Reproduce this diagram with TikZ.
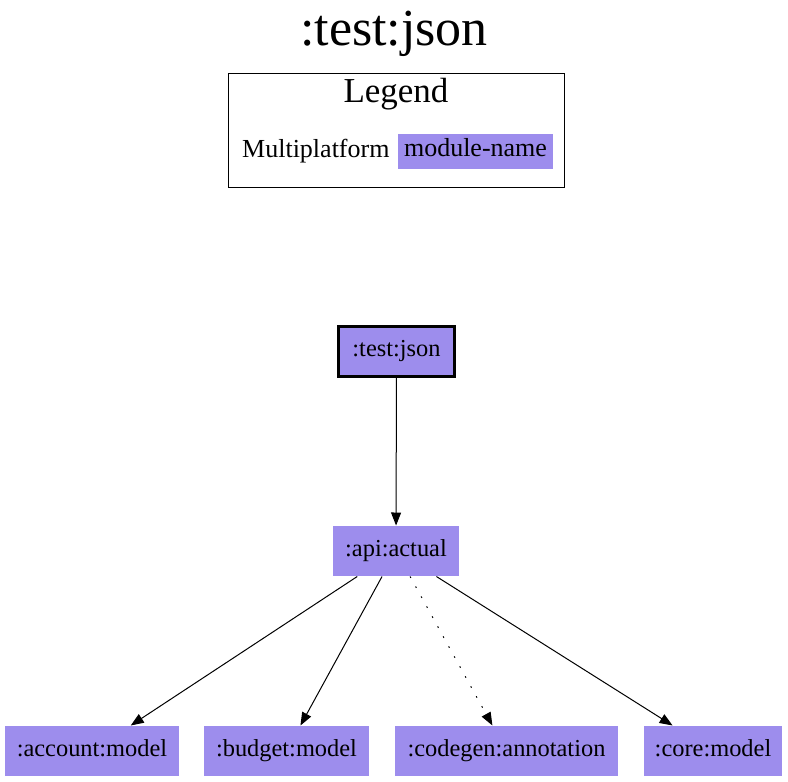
\documentclass[tikz,border=0pt]{standalone}
\usepackage{fontspec}
\setmainfont{Liberation Serif}
\usetikzlibrary{arrows.meta}
\definecolor{modfill}{RGB}{157,141,237}

\begin{document}
\begin{tikzpicture}[x=0.5pt, y=-0.5pt,
	            every node/.style={inner sep=0pt},
	            module/.style={
	            fill=modfill,
	            minimum height=25pt,
	            text height=8pt,
	            text depth=3pt,
	            font=\fontsize{12.2}{14}\selectfont
	            },
	            >={Triangle[length=6.5pt, width=5pt]},
	            every path/.style={
                    line width=0.5pt
                }]

	        \useasboundingbox (0,0) rectangle (788,782);

	        % title and legend
	        \node[anchor=base, font=\fontsize{26}{30}\selectfont] (title) at (394,45) {:test:json};
	        \node[draw, minimum width=168pt, minimum height=57pt] (legend) at (396,130) {};
	        \node[anchor=base, font=\fontsize{17.5}{20}\selectfont] (legendname) at (396,102) {Legend};
	        \node[module, minimum width=77.5pt, minimum height=17.5pt, font=\fontsize{13}{15}\selectfont] (key) at (475.5,151.5) {module-name};
	        \node[anchor=base east, font=\fontsize{13}{15}\selectfont] (platform) at (390,157) {Multiplatform};

	        % modules
	        \node[module, draw, line width=1.5pt, minimum width=58pt] (test) at (396.5,351.5) {:test:json};
	        \node[module, minimum width=63pt] (api) at (396,551) {:api:actual};
	        \node[module, minimum width=87pt] (account) at (92,751) {:account:model};
	        \node[module, minimum width=82.5pt] (budget) at (286.5,751) {:budget:model};
	        \node[module, minimum width=111.5pt] (codegen) at (506.5,751) {:codegen:annotation};
	        \node[module, minimum width=69pt] (core) at (713,751) {:core:model};

	        \draw[->] (test) -- (api);
	        \draw[->] (api) -- (account);
	        \draw[->] (api) -- (budget);
	        \draw[->, dash pattern=on 0.8pt off 4.9pt] (api) -- (codegen);
	        \draw[->] (api) -- (core);

	    \end{tikzpicture}
\end{document}
